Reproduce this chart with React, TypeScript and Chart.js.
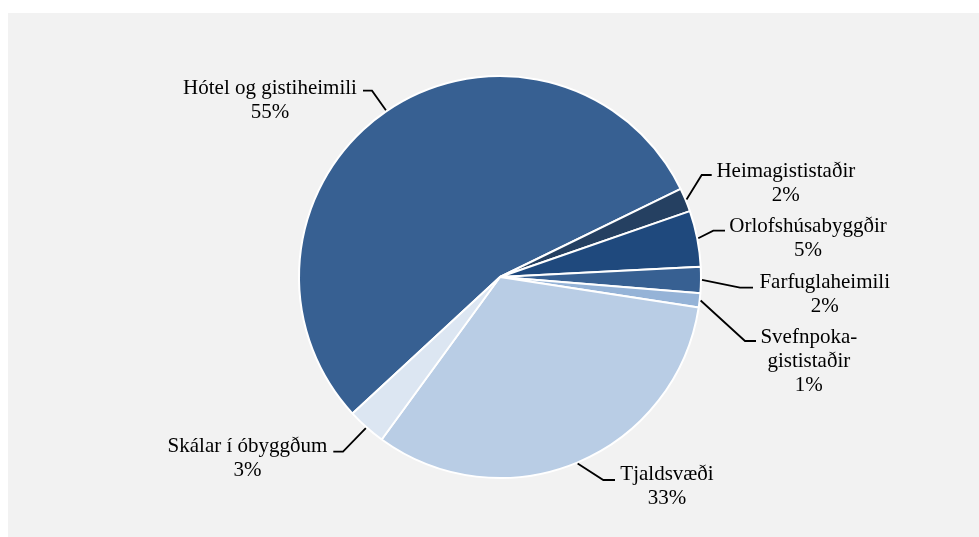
import React, { useEffect, useRef } from "react";
import { Chart, registerables } from "chart.js";

Chart.register(...registerables);

const categories: string[][] = [
  ["Hótel og gistiheimili"],
  ["Heimagististaðir"],
  ["Orlofshúsabyggðir"],
  ["Farfuglaheimili"],
  ["Svefnpoka-", "gististaðir"],
  ["Tjaldsvæði"],
  ["Skálar í óbyggðum"],
];
const shares: number[] = [54.7, 1.9, 4.5, 2.1, 1.15, 32.6, 3.1];
const pctLabels: string[] = ["55%", "2%", "5%", "2%", "1%", "33%", "3%"];
const colors: string[] = ["#376092", "#254061", "#1f497d", "#376092", "#95b3d7", "#b9cde5", "#dce6f2"];

// label layout relative to pie centre: elbow, end of horizontal, text centre x, first baseline y
const labelLayout = [
  { ex: -128, ey: -186.3, hx: -137, tx: -230, ty: -183 },
  { ex: 201.7, ey: -102, hx: 211.7, tx: 285.8, ty: -100.5 },
  { ex: 213.3, ey: -46.3, hx: 225, tx: 308, ty: -45.3 },
  { ex: 240, ey: 10.7, hx: 253, tx: 324.7, ty: 11 },
  { ex: 245, ey: 64, hx: 256, tx: 308.8, ty: 65.7 },
  { ex: 103.3, ey: 203, hx: 115, tx: 167, ty: 203 },
  { ex: -157, ey: 174.7, hx: -166.7, tx: -252.5, ty: 175.3 },
];

const labelPlugin = {
  id: "pieLabels",
  afterDraw(chart: any) {
    const ctx = chart.ctx;
    const meta = chart.getDatasetMeta(0);
    ctx.save();
    meta.data.forEach((arc: any, i: number) => {
      const { x, y, startAngle, endAngle, outerRadius } = arc.getProps(
        ["x", "y", "startAngle", "endAngle", "outerRadius"],
        true
      );
      const mid = (startAngle + endAngle) / 2;
      const r = outerRadius + 1;
      const sx = x + Math.cos(mid) * r;
      const sy = y + Math.sin(mid) * r;
      const L = labelLayout[i];
      ctx.strokeStyle = "#000";
      ctx.lineWidth = 1.8;
      ctx.beginPath();
      ctx.moveTo(sx, sy);
      ctx.lineTo(x + L.ex, y + L.ey);
      ctx.lineTo(x + L.hx, y + L.ey);
      ctx.stroke();
      ctx.fillStyle = "#000";
      ctx.font = '21px "Liberation Serif", "Times New Roman", serif';
      ctx.textAlign = "center";
      ctx.textBaseline = "alphabetic";
      const lines = [...categories[i], pctLabels[i]];
      lines.forEach((t, k) => {
        ctx.fillText(t, x + L.tx, y + L.ty + k * 24);
      });
    });
    ctx.restore();
  },
};

export default function App() {
  const ref = useRef<HTMLCanvasElement>(null);
  useEffect(() => {
    const chart = new Chart(ref.current as HTMLCanvasElement, {
      type: "pie",
      data: {
        labels: categories.map((c) => c.join(" ")),
        datasets: [
          {
            data: shares,
            backgroundColor: colors,
            borderColor: "#ffffff",
            borderWidth: 2,
          },
        ],
      },
      options: {
        animation: false,
        responsive: false,
        events: [],
        rotation: 227.2,
        radius: 201,
        layout: { padding: { left: 13, right: 0, top: 4, bottom: 0 } },
        plugins: { legend: { display: false }, tooltip: { enabled: false } },
      },
      plugins: [labelPlugin],
    } as any);
    return () => chart.destroy();
  }, []);
  return (
    <div
      style={{
        position: "fixed",
        left: 8,
        top: 13,
        width: 971,
        height: 524,
        background: "#f2f2f2",
      }}
    >
      <canvas ref={ref} width={971} height={524} style={{ display: "block" }} />
    </div>
  );
}
